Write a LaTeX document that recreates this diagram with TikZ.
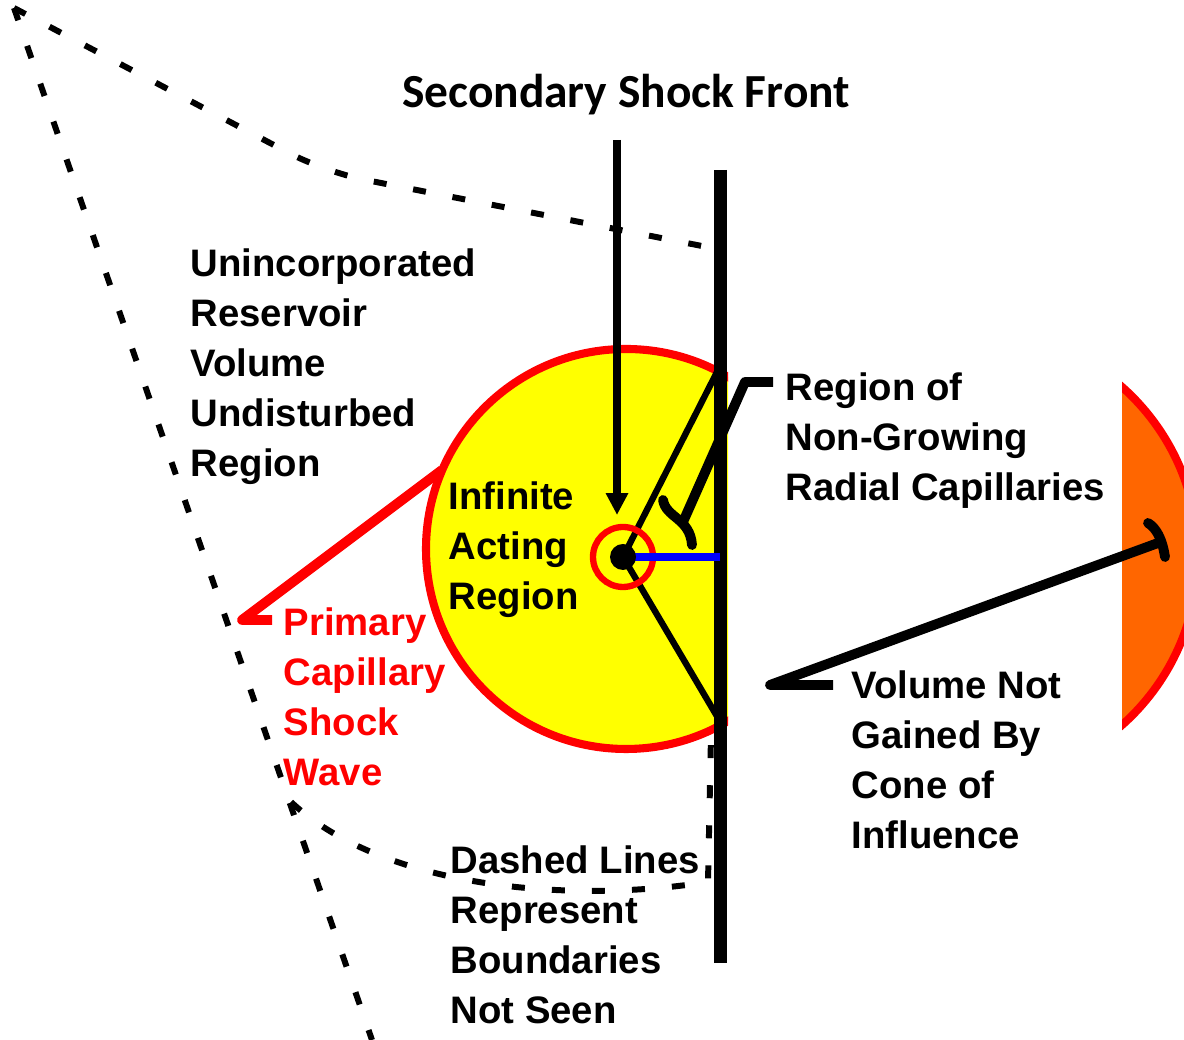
\documentclass[tikz,border=0pt]{standalone}
\usepackage{fontspec}
\setmainfont{Liberation Sans}
\newfontfamily\calibrifont{Carlito}
\usetikzlibrary{arrows.meta}
\definecolor{SWYellow}{HTML}{FFFF00}
\definecolor{SWRed}{HTML}{FF0000}
\definecolor{SWOrange}{HTML}{FF6600}
\definecolor{SWBlue}{HTML}{0000FF}

\begin{document}
\begin{tikzpicture}[x=1cm,y=1cm,
  boundary/.style={line width=1.7pt,dash pattern=on 3.7pt off 7.7pt},
  callout/.style={line width=2.8pt,line join=round},
  label/.style={anchor=north west,inner sep=0pt,align=left,font=\fontsize{10.9}{14.2}\selectfont\bfseries}]
\path[use as bounding box] (0,0) rectangle (11.84,10.40);
% boundaries not seen
\draw[boundary,rounded corners=0.4cm] (0.14,10.32) -- (3.25,8.68) -- (7.12,7.92);
\draw[boundary] (0.14,10.32) -- (3.72,0.00);
\draw[boundary] (2.91,2.38) .. controls (3.80,1.55) and (5.60,1.35) .. (7.08,1.58) -- (7.11,3.05);
% cone of influence (clipped by the front)
\begin{scope}
\clip (11.22,0) rectangle (11.84,10.40);
\filldraw[fill=SWOrange,draw=SWRed,line width=2.3pt] (9.72,4.84) circle (2.26);
\end{scope}
\begin{scope}
\clip (0,0) rectangle (7.28,10.40);
\filldraw[fill=SWYellow,draw=SWRed,line width=2.3pt] (6.26,4.91) circle (2.00);
\end{scope}
\coordinate (well) at (6.23,4.83);
\coordinate (chordtop) at (7.17,6.68);
\coordinate (chordbot) at (7.18,3.22);
\draw[line width=1.8pt] (chordtop) -- (well) -- (chordbot);
% secondary shock front
\draw[line width=3.7pt] (7.20,8.70) -- (7.20,0.77);
\node[anchor=base,inner sep=0pt,font=\calibrifont\fontsize{13.5}{16}\selectfont\bfseries] (front) at (6.26,9.32) {Secondary Shock Front};
\draw[line width=2.1pt,-{Triangle[width=6pt,length=6.2pt]}] (6.17,9.00) -- (6.17,5.25);
% well
\draw[SWRed,line width=1.8pt] (well) circle (0.30);
\draw[SWBlue,line width=2pt] (well) -- (7.20,4.83);
\fill (well) circle (0.13);
% labels
\node[label] (uninc) at (1.90,7.92) {Unincorporated\\Reservoir\\Volume\\Undisturbed\\Region};
\node[label] (infinite) at (4.48,5.59) {Infinite\\Acting\\Region};
\node[label,text=SWRed] (primary) at (2.83,4.33) {Primary\\Capillary\\Shock\\Wave};
\node[label] (nongrow) at (7.85,6.68) {Region of\\Non-Growing\\Radial Capillaries};
\node[label] (volume) at (8.51,3.70) {Volume Not\\Gained By\\Cone of\\Influence};
\node[label] (dashed) at (4.50,1.95) {Dashed Lines\\Represent\\Boundaries\\Not Seen};
% callouts
\draw[callout,SWRed] ([shift={(-0.11,-0.13)}]primary.north west) -- (2.42,4.20) -- (4.42,5.70);
\draw[callout] ([shift={(-0.12,-0.10)}]nongrow.north west) -- (7.45,6.58) -- (6.83,5.18);
\draw[callout,line cap=round] (6.63,5.40) .. controls (6.66,5.22) and (6.90,5.22) .. (6.92,4.95);
\draw[callout] ([shift={(-0.18,-0.15)}]volume.north west) -- (7.70,3.55) -- (11.58,4.97);
\draw[callout,line cap=round] (11.48,5.17) .. controls (11.56,5.12) and (11.62,5.02) .. (11.65,4.83);
\end{tikzpicture}
\end{document}
